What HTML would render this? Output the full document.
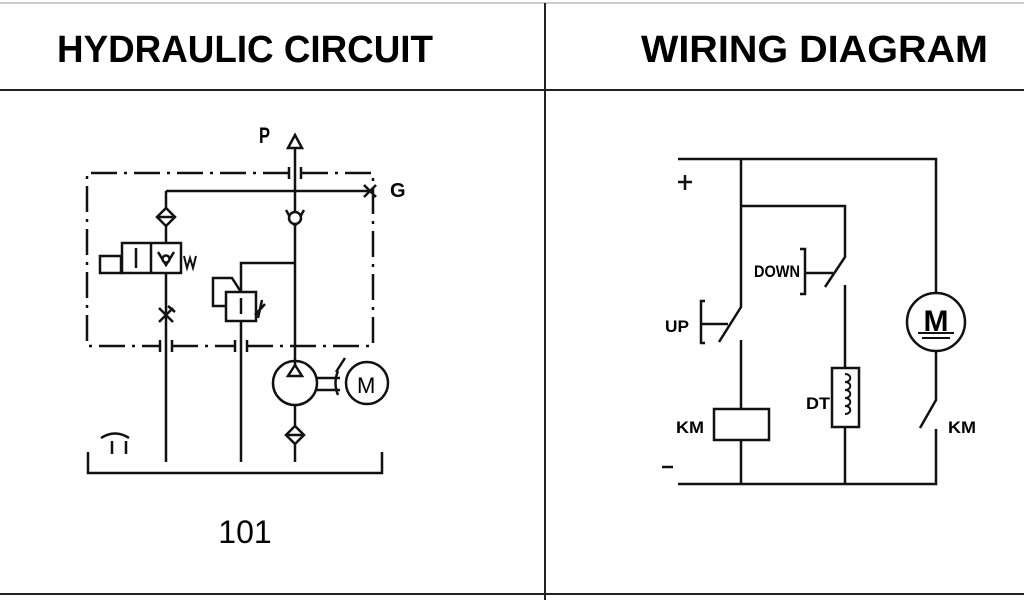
<!DOCTYPE html>
<html><head><style>body{margin:0;background:#fff}svg{display:block}</style></head><body>
<svg width="1024" height="600" viewBox="0 0 1024 600" xmlns="http://www.w3.org/2000/svg" font-family="Liberation Sans, sans-serif">
<line x1="0" y1="3" x2="1024" y2="3" stroke="#ccc" stroke-width="2"/>
<line x1="0" y1="90" x2="1024" y2="90" stroke="#222" stroke-width="2"/>
<line x1="545" y1="3" x2="545" y2="600" stroke="#222" stroke-width="2"/>
<line x1="0" y1="594" x2="1024" y2="594" stroke="#222" stroke-width="2"/>
<text x="57" y="62" font-size="38" font-weight="bold" textLength="376" lengthAdjust="spacingAndGlyphs">HYDRAULIC CIRCUIT</text>
<text x="641" y="62" font-size="38" font-weight="bold" textLength="347" lengthAdjust="spacingAndGlyphs">WIRING DIAGRAM</text>

<g stroke="#111" stroke-width="2.5" fill="none">
<path d="M289 173 H87 V346 H160 M172 346 H235 M247 346 H373 V173 H301" stroke-dasharray="26,7,3,7"/>
<path d="M289 167 V179 M301 167 V179 M160 340 V352 M172 340 V352 M235 340 V352 M247 340 V352"/>
<path d="M295 148 V361"/>
<polygon points="295,135 288,148 302,148" fill="#fff"/>
<path d="M166 191 H370 M364 185 L376 197 M376 185 L364 197"/>
<path d="M286 210 L295 226 L304 210"/><circle cx="295" cy="218" r="6" fill="#fff"/>
<path d="M295 263 H241 V292 M241 321 V462"/>
<rect x="226" y="292" width="30" height="29" fill="#fff"/>
<path d="M241 298 V314"/>
<path d="M226 306 H213 V278 H232 L241 292"/>
<path d="M258 318 L262 300 M255 315 L265 304"/>
<path d="M166 191 V462"/>
<polygon points="166,208 175,217 166,226 157,217" fill="#fff"/><path d="M157 217 H175"/>
<rect x="122" y="243" width="59" height="30" fill="#fff"/>
<path d="M151 243 V273 M136 248 V268 M100 256 H121 V273 H100 Z M158 252 L166 265 L174 252"/>
<circle cx="166" cy="259" r="3.5" fill="#fff"/>
<path d="M184 256 L187 268 L190 258 L193 268 L196 256" stroke-width="2"/>
<path d="M159 308 L173 322 M173 308 L159 322 M168 306 L175 312"/>
<circle cx="295" cy="383" r="22" fill="#fff"/>
<polygon points="295,365 288,376 302,376" fill="#fff"/>
<path d="M295 361 V365 M317 378 H340 M317 390 H340 M336 372 L345 358 M338 395 Q333 383 338 371"/>
<circle cx="367" cy="383" r="21" fill="#fff"/>
<path d="M295 405 V462"/>
<polygon points="295,426 304,435 295,444 286,435" fill="#fff"/><path d="M286 435 H304"/>
<path d="M88 452 V473 H382 V452"/>
<path d="M101 438 Q115 429 129 438 M112 441 V454 M126 441 V454"/>
</g>
<text x="259" y="143" font-size="22" font-weight="bold" textLength="11" lengthAdjust="spacingAndGlyphs">P</text>
<text x="390" y="197" font-size="20" font-weight="bold">G</text>
<text x="357" y="393" font-size="22">M</text>
<text x="245" y="543" font-size="32" text-anchor="middle">101</text>

<g stroke="#111" stroke-width="2.5" fill="none">
<path d="M678 159 H936 V293 M936 351 V400 L920 428 M936 429 V484 H678"/>
<path d="M741 159 V307 L719 342 M741 340 V409 M741 440 V484"/>
<path d="M741 206 H845 V257 L825 287 M845 285 V368 M845 427 V484"/>
<path d="M705 301 H701 V343 H705 M701 324 H728"/>
<path d="M800 249 H805 V294 H800 M805 273 H833"/>
<rect x="714" y="409" width="55" height="31"/>
<rect x="832" y="368" width="27" height="59"/>
<path d="M845 374 C852 374 852 382 845 382 C852 382 852 390 845 390 C852 390 852 398 845 398 C852 398 852 406 845 406 C852 406 852 414 845 414" stroke-width="2"/>
<circle cx="936" cy="322" r="29"/>
<path d="M918 333 H954 M922 338 H950" stroke-width="2"/>
<path d="M685 175 V190 M678 182 H692 M662 467 H673"/>
</g>
<text x="936" y="331" font-size="30" text-anchor="middle" font-weight="bold">M</text>
<text x="665" y="332" font-size="17" font-weight="bold" textLength="24" lengthAdjust="spacingAndGlyphs">UP</text>
<text x="754" y="277" font-size="17" font-weight="bold" textLength="46" lengthAdjust="spacingAndGlyphs">DOWN</text>
<text x="806" y="409" font-size="17" font-weight="bold" textLength="24" lengthAdjust="spacingAndGlyphs">DT</text>
<text x="676" y="433" font-size="17" font-weight="bold" textLength="28" lengthAdjust="spacingAndGlyphs">KM</text>
<text x="948" y="433" font-size="17" font-weight="bold" textLength="28" lengthAdjust="spacingAndGlyphs">KM</text>
</svg>
</body></html>
